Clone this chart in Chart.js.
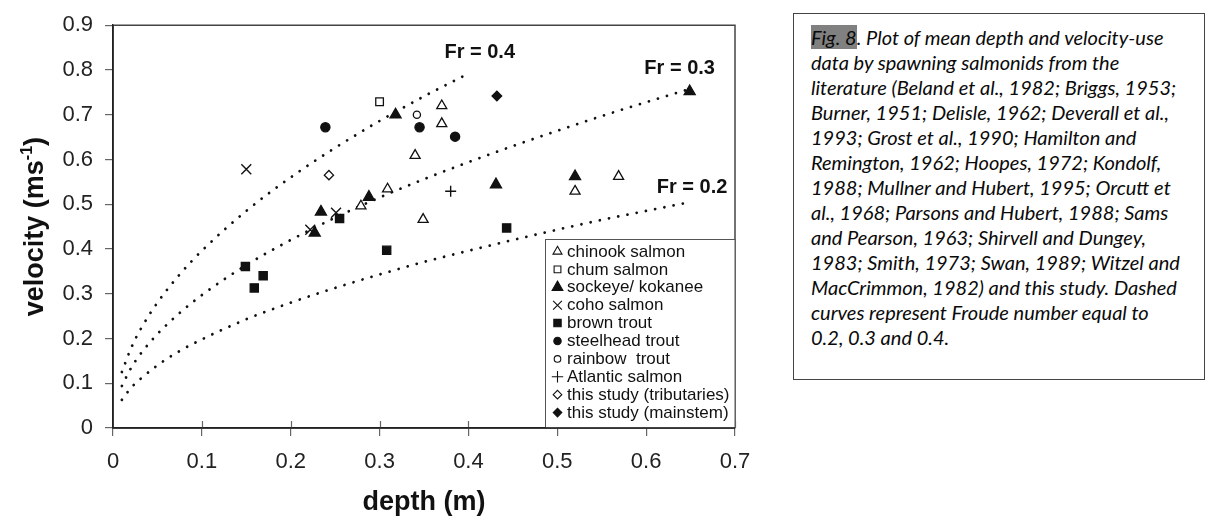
<!DOCTYPE html>
<html>
<head>
<meta charset="utf-8">
<script src="https://cdn.jsdelivr.net/npm/chart.js@4.4.1/dist/chart.umd.min.js"></script>
<style>
  html, body { margin: 0; padding: 0; background: #fff; width: 1207px; height: 522px; overflow: hidden; }
  #wrap { position: absolute; left: 0; top: 0; width: 780px; height: 522px; }
  #caption {
    position: absolute; left: 793px; top: 13px; width: 393px; height: 354px;
    border: 1.5px solid #444; padding: 11px 0 0 17px;
    font-family: 'Lato', sans-serif; font-style: italic; font-size: 20px; line-height: 25px;
    color: #0a0a0a; white-space: nowrap;
  }
  #caption .hl { background: #808080; }
</style>
</head>
<body>
<div id="wrap"><canvas id="c" width="780" height="522"></canvas></div>
<div id="caption"><span class="hl">Fig. 8</span>. Plot of mean depth and velocity-use<br>data by spawning salmonids from the<br>literature (Beland et al., 1982; Briggs, 1953;<br>Burner, 1951; Delisle, 1962; Deverall et al.,<br>1993; Grost et al., 1990; Hamilton and<br>Remington, 1962; Hoopes, 1972; Kondolf,<br>1988; Mullner and Hubert, 1995; Orcutt et<br>al., 1968; Parsons and Hubert, 1988; Sams<br>and Pearson, 1963; Shirvell and Dungey,<br>1983; Smith, 1973; Swan, 1989; Witzel and<br>MacCrimmon, 1982) and this study. Dashed<br>curves represent Froude number equal to<br>0.2, 0.3 and 0.4.</div>
<script>
// ---- data ----
const chinookDepth = [0.309, 0.279, 0.370, 0.370, 0.340, 0.349, 0.520, 0.569];
const chinookVel   = [0.534, 0.496, 0.720, 0.680, 0.609, 0.466, 0.529, 0.562];
const chumDepth = [0.300];
const chumVel   = [0.729];
const sockeyeDepth = [0.227, 0.234, 0.288, 0.318, 0.431, 0.520, 0.649];
const sockeyeVel   = [0.436, 0.483, 0.516, 0.700, 0.544, 0.562, 0.752];
const cohoDepth = [0.150, 0.222, 0.251];
const cohoVel   = [0.578, 0.443, 0.481];
const brownDepth = [0.149, 0.159, 0.169, 0.255, 0.308, 0.443];
const brownVel   = [0.361, 0.313, 0.340, 0.468, 0.397, 0.447];
const steelheadDepth = [0.239, 0.345, 0.385];
const steelheadVel   = [0.672, 0.672, 0.651];
const rainbowDepth = [0.342];
const rainbowVel   = [0.700];
const atlanticDepth = [0.380];
const atlanticVel   = [0.529];
const tribDepth = [0.243];
const tribVel   = [0.565];
const mainDepth = [0.432];
const mainVel   = [0.742];

// Froude-number reference curves (dotted)
const fr04Depth = [0.01, 0.02, 0.03, 0.05, 0.075, 0.1, 0.15, 0.2, 0.25, 0.3, 0.35, 0.4];
const fr04Vel   = [0.125, 0.177, 0.217, 0.280, 0.343, 0.396, 0.485, 0.560, 0.626, 0.686, 0.741, 0.792];
const frLongDepth = [0.01, 0.02, 0.03, 0.05, 0.075, 0.1, 0.15, 0.2, 0.25, 0.3, 0.35, 0.4, 0.45, 0.5, 0.55, 0.6, 0.65];
const fr03Vel = [0.094, 0.133, 0.163, 0.210, 0.257, 0.297, 0.364, 0.420, 0.470, 0.515, 0.556, 0.594, 0.630, 0.664, 0.697, 0.728, 0.758];
const fr02Vel = [0.063, 0.089, 0.108, 0.140, 0.172, 0.198, 0.243, 0.280, 0.313, 0.343, 0.371, 0.396, 0.420, 0.443, 0.465, 0.485, 0.505];

const frLabels = ['Fr = 0.4', 'Fr = 0.3', 'Fr = 0.2'];
const xTickValues = [0, 0.1, 0.2, 0.3, 0.4, 0.5, 0.6, 0.7];
const yTickValues = [0, 0.1, 0.2, 0.3, 0.4, 0.5, 0.6, 0.7, 0.8, 0.9];
const xTitle = 'depth (m)';
const yTitle = ['velocity (ms', '-1', ')'];

const legendNames = ['chinook salmon', 'chum salmon', 'sockeye/ kokanee', 'coho salmon', 'brown trout',
  'steelhead trout', 'rainbow  trout', 'Atlantic salmon', 'this study (tributaries)', 'this study (mainstem)'];

// ---- build ----
const pts = (xs, ys) => xs.map((x, i) => ({ x: x, y: ys[i] }));
const INK = '#111';
function species(i, xs, ys, style, radius, open, lw) {
  return {
    type: 'scatter', label: legendNames[i], data: pts(xs, ys),
    pointStyle: style, pointRadius: radius, pointHoverRadius: radius,
    backgroundColor: open ? '#fff' : INK, borderColor: INK,
    pointBorderWidth: lw || 1.3, order: 0
  };
}
function curve(label, xs, ys) {
  return {
    type: 'line', label: label, data: pts(xs, ys), showLine: true,
    borderColor: '#111', borderWidth: 2.8, borderDash: [0.01, 9.4], borderCapStyle: 'round',
    pointRadius: 0, cubicInterpolationMode: 'monotone', fill: false, order: 5
  };
}

const legendMarks = [
  { style: 'triangle', r: 5.2, open: true },
  { style: 'rect', r: 4.8, open: true },
  { style: 'triangle', r: 6.2, open: false },
  { style: 'crossRot', r: 6.2, open: true },
  { style: 'rect', r: 5.2, open: false },
  { style: 'circle', r: 3.7, open: false },
  { style: 'circle', r: 3.3, open: true },
  { style: 'cross', r: 5.7, open: true },
  { style: 'rectRot', r: 4.3, open: true },
  { style: 'rectRot', r: 4.3, open: false }
];

const decor = {
  id: 'decor',
  afterDraw(chart) {
    const ctx = chart.ctx, a = chart.chartArea;
    const xs = chart.scales.x, ys = chart.scales.y;
    ctx.save();
    // top and right frame
    ctx.strokeStyle = '#444'; ctx.lineWidth = 1.5;
    ctx.beginPath();
    ctx.moveTo(a.left, a.top); ctx.lineTo(a.right, a.top); ctx.lineTo(a.right, a.bottom);
    ctx.stroke();
    // inner part of x ticks
    ctx.strokeStyle = '#666'; ctx.lineWidth = 1.2;
    xTickValues.forEach(v => {
      if (v === 0) return;
      const px = Math.round(xs.getPixelForValue(v)) + 0.5;
      ctx.beginPath(); ctx.moveTo(px, a.bottom - 7); ctx.lineTo(px, a.bottom); ctx.stroke();
    });
    // Fr labels
    ctx.fillStyle = '#111';
    ctx.font = 'bold 20px "Liberation Sans", Arial, sans-serif';
    ctx.textBaseline = 'middle'; ctx.textAlign = 'left';
    const frPos = [[0.373, 0.838], [0.598, 0.803], [0.612, 0.538]];
    frLabels.forEach((t, i) => ctx.fillText(t, xs.getPixelForValue(frPos[i][0]), ys.getPixelForValue(frPos[i][1])));
    // axis titles
    ctx.font = 'bold 27px "Liberation Sans", Arial, sans-serif';
    ctx.textAlign = 'center'; ctx.textBaseline = 'alphabetic';
    ctx.fillText(xTitle, (a.left + a.right) / 2, 510);
    ctx.save();
    ctx.translate(43, (a.top + a.bottom) / 2);
    ctx.rotate(-Math.PI / 2);
    ctx.textAlign = 'left';
    const fMain = 'bold 27px "Liberation Sans", Arial, sans-serif';
    const fSup = 'bold 16px "Liberation Sans", Arial, sans-serif';
    ctx.font = fMain; const w1 = ctx.measureText(yTitle[0]).width; const w3 = ctx.measureText(yTitle[2]).width;
    ctx.font = fSup; const w2 = ctx.measureText(yTitle[1]).width;
    let sx = -(w1 + w2 + w3) / 2;
    ctx.font = fMain; ctx.fillText(yTitle[0], sx, 0); sx += w1;
    ctx.font = fSup; ctx.fillText(yTitle[1], sx, -11); sx += w2;
    ctx.font = fMain; ctx.fillText(yTitle[2], sx, 0);
    ctx.restore();
    // legend box
    const lx = 545, ly = 239;
    ctx.fillStyle = '#fff';
    ctx.fillRect(lx, ly, a.right - lx, a.bottom - ly);
    ctx.strokeStyle = '#555'; ctx.lineWidth = 1;
    ctx.strokeRect(lx + 0.5, ly + 0.5, a.right - lx - 0.5, a.bottom - ly - 0.5);
    ctx.font = '17px "Liberation Sans", Arial, sans-serif';
    ctx.textAlign = 'left'; ctx.textBaseline = 'middle';
    legendNames.forEach((name, i) => {
      const cy = 251.5 + i * 17.9;
      const m = legendMarks[i];
      ctx.fillStyle = m.open ? '#fff' : INK;
      ctx.strokeStyle = INK; ctx.lineWidth = 1.1;
      Chart.helpers.drawPoint(ctx, { pointStyle: m.style, radius: m.r, rotation: 0, borderWidth: 1.1 }, 557.5, cy);
      ctx.fillStyle = '#111';
      ctx.fillText(name, 567, cy + 0.5);
    });
    // redraw axis lines on top
    ctx.strokeStyle = '#222'; ctx.lineWidth = 1.5;
    ctx.beginPath(); ctx.moveTo(a.left, a.top); ctx.lineTo(a.left, a.bottom); ctx.lineTo(a.right, a.bottom); ctx.stroke();
    ctx.restore();
  }
};

const tickFont = { family: '"Liberation Sans", Arial, sans-serif', size: 22 };

new Chart(document.getElementById('c'), {
  type: 'scatter',
  data: {
    datasets: [
      curve(frLabels[0], fr04Depth, fr04Vel),
      curve(frLabels[1], frLongDepth, fr03Vel),
      curve(frLabels[2], frLongDepth, fr02Vel),
      species(0, chinookDepth, chinookVel, 'triangle', 5.8, true),
      species(1, chumDepth, chumVel, 'rect', 5.4, true),
      species(2, sockeyeDepth, sockeyeVel, 'triangle', 6.4, false),
      species(3, cohoDepth, cohoVel, 'crossRot', 7, true, 1.4),
      species(4, brownDepth, brownVel, 'rect', 5.8, false),
      species(5, steelheadDepth, steelheadVel, 'circle', 4.6, false),
      species(6, rainbowDepth, rainbowVel, 'circle', 3.6, true),
      species(7, atlanticDepth, atlanticVel, 'cross', 5.5, true, 1.4),
      species(8, tribDepth, tribVel, 'rectRot', 4.6, true),
      species(9, mainDepth, mainVel, 'rectRot', 4.8, false)
    ]
  },
  options: {
    responsive: false, animation: false, devicePixelRatio: 1,
    layout: { padding: { top: 23, right: 45, left: 0, bottom: 0 } },
    plugins: { legend: { display: false }, tooltip: { enabled: false } },
    scales: {
      x: {
        type: 'linear', min: 0, max: 0.7,
        afterFit: s => { s.height = 94; },
        afterBuildTicks: s => { s.ticks = xTickValues.map(v => ({ value: v })); },
        ticks: { font: tickFont, color: '#222', padding: 13, maxRotation: 0,
          callback: v => String(Math.round(v * 10) / 10) },
        grid: { drawOnChartArea: false, drawTicks: true, tickLength: 8, color: '#666', lineWidth: 1.2 },
        border: { display: true, color: '#222', width: 1.5 }
      },
      y: {
        type: 'linear', min: 0, max: 0.9,
        afterFit: s => { s.width = 113; },
        afterBuildTicks: s => { s.ticks = yTickValues.map(v => ({ value: v })); },
        ticks: { font: tickFont, color: '#222', padding: 12,
          callback: v => String(Math.round(v * 10) / 10) },
        grid: { drawOnChartArea: false, drawTicks: true, tickLength: 8, color: '#666', lineWidth: 1.2 },
        border: { display: true, color: '#222', width: 1.5 }
      }
    }
  },
  plugins: [decor]
});
</script>
</body>
</html>
